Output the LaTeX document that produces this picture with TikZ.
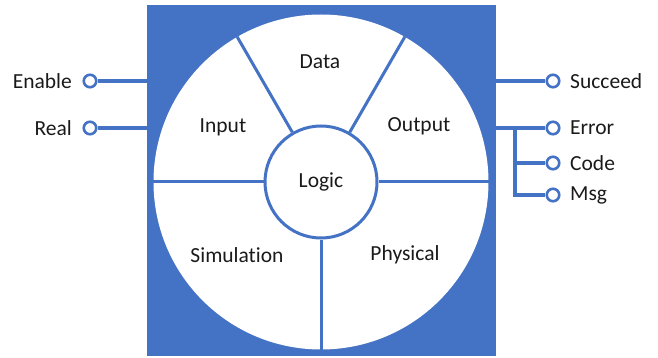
\documentclass[tikz,border=0pt]{standalone}
\usepackage{fontspec}
\setmainfont[Ligatures=NoCommon]{Carlito}
\definecolor{accent}{HTML}{4472C4}
\definecolor{ink}{HTML}{1A1A1A}
\begin{document}
\begin{tikzpicture}[x=1pt,y=-1pt,
  lbl/.style={text=ink,font=\fontsize{21.5}{24}\selectfont,inner sep=0pt},
  port/.style={circle,draw=accent,fill=white,line width=2.6pt,minimum size=12.5pt,inner sep=0pt},
  wire/.style={draw=accent,line width=4.5pt},
  spoke/.style={draw=accent,line width=3pt}]
\useasboundingbox (0,0) rectangle (658,358);
% housing and wheel
\node[fill=accent,minimum width=349pt,minimum height=351pt,inner sep=0pt] (box) at (321.5,180.5) {};
\node[circle,fill=white,minimum size=335pt,inner sep=0pt] (wheel) at (321,182) {};
\node[circle,fill=white,draw=accent,line width=3pt,minimum size=112pt,inner sep=0pt] (hub) at (321,182) {};
\foreach \a in {0,60,120,180,270}
  \draw[spoke] (hub.\a) -- (wheel.\a);
% sector labels
\node[lbl] (data) at (320,62) {Data};
\node[lbl] (input) at (223,127) {Input};
\node[lbl] (output) at (419,126) {Output};
\node[lbl] (logic) at (321,182) {Logic};
\node[lbl] (sim) at (237,255) {Simulation};
\node[lbl] (phys) at (405,255) {Physical};
% input ports
\node[port] (enp) at (90,81) {};
\node[port] (realp) at (90,128) {};
\node[lbl,anchor=east] (en) at (72,81) {Enable};
\node[lbl,anchor=east] (real) at (72,128) {Real};
\draw[wire] (enp) -- (enp -| box.west);
\draw[wire] (realp) -- (realp -| box.west);
% output ports
\node[port] (sucp) at (553,81) {};
\node[port] (errp) at (553,128) {};
\node[port] (codep) at (553,163) {};
\node[port] (msgp) at (553,195) {};
\coordinate (fork) at (515,128);
\node[lbl,anchor=west] (suc) at (570,81) {Succeed};
\node[lbl,anchor=west] (err) at (570,128) {Error};
\node[lbl,anchor=west] (code) at (570,163) {Code};
\node[lbl,anchor=west] (msg) at (570,195) {Msg};
\draw[wire] (sucp -| box.east) -- (sucp);
\draw[wire] (errp -| box.east) -- (errp);
\draw[wire] (fork) -- (fork |- msgp) -- (msgp);
\draw[wire] (fork |- codep) -- (codep);
\end{tikzpicture}
\end{document}
